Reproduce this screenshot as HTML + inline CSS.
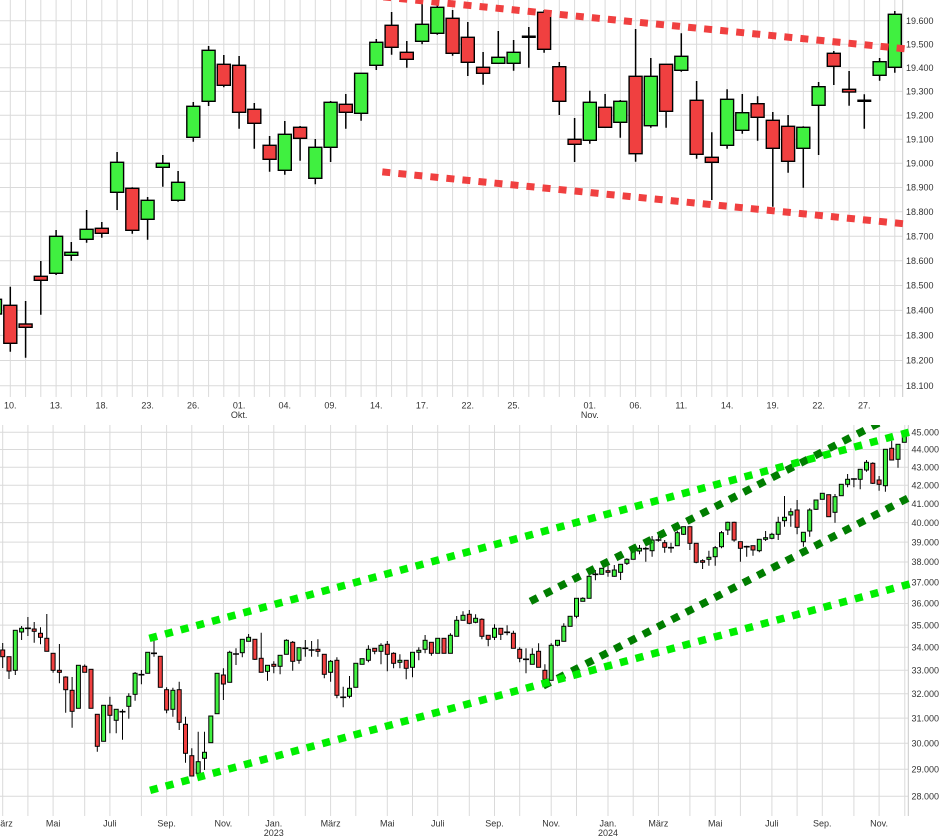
<!DOCTYPE html>
<html><head><meta charset="utf-8"><style>
html,body{margin:0;padding:0;background:#fff;}
svg{display:block;}
text{font-family:"Liberation Sans",Arial,sans-serif;font-size:9px;fill:#333;}
</style></head><body>
<svg width="942" height="837" viewBox="0 0 942 837" xmlns="http://www.w3.org/2000/svg">
<defs><clipPath id="cb"><rect x="0" y="425" width="942" height="392"/></clipPath></defs>
<!-- TOP CHART GRID -->
<g stroke="#dadada" stroke-width="1" fill="none">
<path d="M0 20.7H903M0 44.2H903M0 67.7H903M0 91.4H903M0 115.2H903M0 139.2H903M0 163.3H903M0 187.5H903M0 211.8H903M0 236.2H903M0 260.8H903M0 285.5H903M0 310.4H903M0 335.4H903M0 360.5H903M0 385.8H903"/>
<path d="M10.3 0V397M25.6 0V397M40.8 0V397M56.1 0V397M71.3 0V397M86.6 0V397M101.8 0V397M117.1 0V397M132.3 0V397M147.6 0V397M162.8 0V397M178.1 0V397M193.3 0V397M208.6 0V397M223.8 0V397M239.1 0V397M254.3 0V397M269.6 0V397M284.8 0V397M300.1 0V397M315.3 0V397M330.6 0V397M345.8 0V397M361.1 0V397M376.3 0V397M391.6 0V397M406.8 0V397M422.1 0V397M437.3 0V397M452.6 0V397M467.8 0V397M483.1 0V397M498.3 0V397M513.6 0V397M528.8 0V397M544.1 0V397M559.3 0V397M574.6 0V397M589.8 0V397M605.1 0V397M620.3 0V397M635.6 0V397M650.8 0V397M666.1 0V397M681.3 0V397M696.6 0V397M711.8 0V397M727.1 0V397M742.3 0V397M757.6 0V397M772.8 0V397M788.1 0V397M803.3 0V397M818.6 0V397M833.8 0V397M849.1 0V397M864.3 0V397M879.6 0V397M894.8 0V397"/>
<path d="M902.7 0V397" stroke="#c8c8c8"/>
</g>
<!-- TOP CANDLES -->
<path stroke="#000" stroke-width="1.5" fill="none" d="M-4.9 290V318M10.3 286.7V351.7M25.6 301V357.7M40.8 261V314.7M56.1 230V275M71.3 242V260.7M86.6 210V242.7M101.8 222V237.7M117.1 152V210M132.3 187.3V233.7M147.6 197V239.7M162.8 155V186.7M178.1 171V201.7M193.3 102V141.7M208.6 46V106M223.8 55V87.3M239.1 56V128.7M254.3 103V148.7M269.6 136V171.7M284.8 121V174.7M300.1 126V160.7M315.3 139V184.3M330.6 101V162M345.8 94V128.7M361.1 73.3V120.7M376.3 39V70M391.6 12V54.7M406.8 41V67.7M422.1 0V44.3M437.3 0V34.7M452.6 10V55.7M467.8 22V76M483.1 52V84.7M498.3 31V63.3M513.6 40V70.7M528.8 27V67.7M544.1 10V52.7M559.3 62V115M574.6 118V162M589.8 90.7V143.7M605.1 94V127.3M620.3 100V137.7M635.6 29V161.7M650.8 58V127.7M666.1 64.3V127.7M681.3 33.3V71.7M696.6 81V158.7M711.8 132.3V200M727.1 89.3V148.7M742.3 94V133.7M757.6 96.3V140.7M772.8 112V206.7M788.1 115V172.7M803.3 126.3V187.7M818.6 82V155M833.8 51V85M849.1 71V105.7M864.3 94.3V128.7M879.6 58V80.7M894.8 11V72.7"/>
<g fill="#40f040" stroke="#000" stroke-width="1.4">
<rect x="-11.5" y="299.3" width="13" height="14.7"/>
<rect x="49.6" y="236.3" width="13" height="37"/>
<rect x="64.8" y="252.3" width="13" height="3"/>
<rect x="80.1" y="229.3" width="13" height="10"/>
<rect x="110.6" y="162.3" width="13" height="30"/>
<rect x="141.1" y="200.3" width="13" height="19"/>
<rect x="156.3" y="163.3" width="13" height="4"/>
<rect x="171.6" y="182.3" width="13" height="18"/>
<rect x="186.8" y="106.3" width="13" height="31"/>
<rect x="202.1" y="50.3" width="13" height="51"/>
<rect x="278.3" y="134.3" width="13" height="36"/>
<rect x="308.8" y="147.3" width="13" height="31"/>
<rect x="324.1" y="102.3" width="13" height="45"/>
<rect x="354.6" y="73.3" width="13" height="40"/>
<rect x="369.8" y="42.3" width="13" height="23"/>
<rect x="415.6" y="24.3" width="13" height="17"/>
<rect x="430.8" y="7.3" width="13" height="26"/>
<rect x="491.8" y="57.3" width="13" height="6"/>
<rect x="507.1" y="52.3" width="13" height="11"/>
<rect x="583.3" y="102.3" width="13" height="38"/>
<rect x="613.8" y="101.3" width="13" height="21"/>
<rect x="644.3" y="76.3" width="13" height="49.4"/>
<rect x="674.8" y="56.3" width="13" height="14"/>
<rect x="720.6" y="99.3" width="13" height="46"/>
<rect x="735.8" y="112.7" width="13" height="17.6"/>
<rect x="796.8" y="127.3" width="13" height="21"/>
<rect x="812.1" y="86.7" width="13" height="18.6"/>
<rect x="873.1" y="61.7" width="13" height="13.6"/>
<rect x="888.3" y="14.3" width="13" height="53"/>
</g>
<g fill="#f04040" stroke="#000" stroke-width="1.4">
<rect x="3.8" y="305.3" width="13" height="38"/>
<rect x="19.1" y="324" width="13" height="3.3"/>
<rect x="34.3" y="276.3" width="13" height="4"/>
<rect x="95.3" y="228.3" width="13" height="5"/>
<rect x="125.8" y="188.3" width="13" height="42"/>
<rect x="217.3" y="64.3" width="13" height="21"/>
<rect x="232.6" y="65.3" width="13" height="47"/>
<rect x="247.8" y="109.3" width="13" height="14"/>
<rect x="263.1" y="145.3" width="13" height="14"/>
<rect x="293.6" y="127.3" width="13" height="11"/>
<rect x="339.3" y="104.3" width="13" height="8"/>
<rect x="385.1" y="25.3" width="13" height="22"/>
<rect x="400.3" y="52.3" width="13" height="7"/>
<rect x="446.1" y="18.3" width="13" height="35"/>
<rect x="461.3" y="37.3" width="13" height="25"/>
<rect x="476.6" y="67.3" width="13" height="6"/>
<rect x="537.6" y="12.3" width="13" height="37"/>
<rect x="552.8" y="66.7" width="13" height="34.6"/>
<rect x="568.1" y="139.3" width="13" height="5"/>
<rect x="598.6" y="107.3" width="13" height="20"/>
<rect x="629.1" y="76.3" width="13" height="77.4"/>
<rect x="659.6" y="64.3" width="13" height="47"/>
<rect x="690.1" y="100.3" width="13" height="54"/>
<rect x="705.3" y="157.3" width="13" height="5"/>
<rect x="751.1" y="103.7" width="13" height="13.6"/>
<rect x="766.3" y="120.3" width="13" height="28"/>
<rect x="781.6" y="126.3" width="13" height="35"/>
<rect x="827.3" y="53.3" width="13" height="13"/>
<rect x="842.6" y="89.3" width="13" height="2.7"/>
</g>
<path stroke="#000" stroke-width="2.5" d="M521.8 36.7H535.8M857.3 100.7H871.3"/>
<!-- TOP RED CHANNEL -->
<g stroke="#f04040" stroke-width="7" fill="none">
<line x1="383.3" y1="-3.1" x2="906" y2="48.9" stroke-dasharray="8 8.12"/>
<line x1="382.3" y1="171.9" x2="906" y2="224" stroke-dasharray="8 8.1"/>
</g>
<!-- TOP AXIS LABELS -->
<g>
<text x="906" y="23.9">19.600</text><text x="906" y="47.4">19.500</text><text x="906" y="70.9">19.400</text><text x="906" y="94.6">19.300</text><text x="906" y="118.4">19.200</text><text x="906" y="142.4">19.100</text><text x="906" y="166.5">19.000</text><text x="906" y="190.7">18.900</text><text x="906" y="215">18.800</text><text x="906" y="239.4">18.700</text><text x="906" y="264">18.600</text><text x="906" y="288.7">18.500</text><text x="906" y="313.6">18.400</text><text x="906" y="338.6">18.300</text><text x="906" y="363.7">18.200</text><text x="906" y="389">18.100</text>
</g>
<g text-anchor="middle">
<text x="10.3" y="408.5">10.</text><text x="56.1" y="408.5">13.</text><text x="101.8" y="408.5">18.</text><text x="147.6" y="408.5">23.</text><text x="193.3" y="408.5">26.</text><text x="239.1" y="408.5">01.</text><text x="239.1" y="417.8">Okt.</text><text x="284.8" y="408.5">04.</text><text x="330.6" y="408.5">09.</text><text x="376.3" y="408.5">14.</text><text x="422.1" y="408.5">17.</text><text x="467.8" y="408.5">22.</text><text x="513.6" y="408.5">25.</text><text x="589.8" y="408.5">01.</text><text x="589.8" y="417.8">Nov.</text><text x="635.6" y="408.5">06.</text><text x="681.3" y="408.5">11.</text><text x="727.1" y="408.5">14.</text><text x="772.8" y="408.5">19.</text><text x="818.6" y="408.5">22.</text><text x="864.3" y="408.5">27.</text>
</g>
<!-- BOTTOM CHART GRID -->
<g stroke="#dadada" stroke-width="1" fill="none">
<path d="M0 432.3H908M0 449.5H908M0 467.2H908M0 485.2H908M0 503.7H908M0 522.6H908M0 542.1H908M0 562H908M0 582.4H908M0 603.5H908M0 625.1H908M0 647.3H908M0 670.2H908M0 693.8H908M0 718.1H908M0 743.3H908M0 769.3H908M0 796.2H908"/>
<path d="M2.7 425V816M27.9 425V816M53.1 425V816M84.7 425V816M109.9 425V816M141.4 425V816M166.6 425V816M191.8 425V816M223.4 425V816M248.6 425V816M273.8 425V816M305.3 425V816M330.6 425V816M355.8 425V816M387.3 425V816M412.5 425V816M437.7 425V816M469.3 425V816M494.5 425V816M519.7 425V816M551.2 425V816M576.5 425V816M608 425V816M633.2 425V816M658.4 425V816M689.9 425V816M715.2 425V816M740.4 425V816M771.9 425V816M797.1 425V816M822.3 425V816M853.9 425V816M879.1 425V816M904.8 425V816"/>
<path d="M908.3 425V816" stroke="#c8c8c8"/>
</g>
<!-- BOTTOM CANDLES -->
<path stroke="#000" stroke-width="1" fill="none" d="M2.7 643V668M9 656.7V679M15.3 630.3V675M21.6 626V640M27.9 617V636M34.2 622V642.7M40.5 627.3V644.3M46.8 614V651.3M53.1 653.3V672.7M59.4 644V683.3M65.7 676.3V712.7M72.1 677V727.7M78.4 665.3V708.3M84.7 664.5V672.3M91 669.3V708.3M97.3 714.3V751.7M103.6 705.3V741.3M109.9 696.7V733.3M116.2 709.3V733.3M122.5 709.3V739.7M128.8 693.3V718.7M135.1 672V700.7M141.4 670V684.3M147.7 652.3V673.3M154 640V656.7M160.3 656.3V687.3M166.6 687.3V713.3M172.9 687.7V716.7M179.2 681.7V730M185.5 716.7V762.7M191.8 748.3V776M198.2 731.7V773.3M204.5 731.7V770M210.8 716V742.7M217.1 673.3V713.7M223.4 668.3V700M229.7 650.7V682.3M236 648.3V665M242.3 639.3V657.3M248.6 634V641.3M254.9 639.3V660M261.2 632.7V672.3M267.5 665.3V680.7M273.8 661.3V673.3M280.1 655.3V674.3M286.4 639.3V654.3M292.7 641V670.7M299 647.7V663.7M305.3 640V656.7M311.6 641V656.7M317.9 639.3V656.7M324.3 654.3V678.3M330.6 660V681.7M336.9 657.3V698.3M343.2 686.7V707.3M349.5 676V698.3M355.8 663.3V687.3M362.1 658.7V664.3M368.4 645.3V662.3M374.7 648.3V654.3M381 643.3V664.3M387.3 641V671.3M393.6 652.3V668.3M399.9 654.3V668.3M406.2 660.3V679.3M412.5 652.3V677.3M418.8 647.3V660.3M425.1 635V653.3M431.4 642.3V655.7M437.7 638.3V653.3M444 638.3V653.3M450.4 633.3V653.3M456.7 616V636.3M463 611.3V620.3M469.3 610V624.3M475.6 614.3V623.3M481.9 618.3V639.3M488.2 635.3V646.3M494.5 624.3V640M500.8 628.3V640M507.1 625.3V635.3M513.4 630.7V648.3M519.7 647.3V662.3M526 648.3V673.3M532.3 648.3V664.3M538.6 643.3V667.3M544.9 664.3V679.3M551.2 643.3V680.3M557.5 640.3V646.3M563.8 623.3V641.3M570.1 616.3V626.3M576.5 598.3V618.3M582.8 597.3V601.3M589.1 569V598.3M595.4 570V580.3M601.7 568.3V574.3M608 565.7V576.7M614.3 565V576.7M620.6 564.3V580M626.9 558.3V565M633.2 548.3V559.3M639.5 545V554.3M645.8 546.7V561.7M652.1 536V556.7M658.4 532.7V541.7M664.7 540V552.7M671 542.7V552.7M677.3 530.7V545.7M683.6 526.7V535M689.9 526.7V550M696.2 543.3V563.3M702.6 559.3V569M708.9 550.7V565.7M715.2 546V565.7M721.5 531V548.3M727.8 521.7V535M734.1 521.7V541.7M740.4 541.7V561.7M746.7 545.7V556.7M753 545.7V555.7M759.3 539.3V552.3M765.6 531V541M771.9 532.7V539.3M778.2 516.7V540M784.5 496V526.7M790.8 508.3V526.7M797.1 500V534.3M803.4 532.3V546.7M809.7 508.3V536.7M816 500V510M822.3 493.3V499.3M828.7 494.7V516.7M835 494V522.7M841.3 484.3V495.7M847.6 474V487.3M853.9 478.3V487.3M860.2 469.3V489.3M866.5 460V471.7M872.8 462.3V484M879.1 476V490.7M885.4 449.3V491.7M891.7 440.7V460M898 444.3V467.7M904.3 433.3V442.3"/>
<g fill="#40f040" stroke="#000" stroke-width="1">
<rect x="13.3" y="630.3" width="4" height="40"/><rect x="19.6" y="628.3" width="4" height="3.7"/><rect x="76.4" y="665.3" width="4" height="43"/><rect x="101.6" y="705.3" width="4" height="36"/><rect x="114.2" y="709.3" width="4" height="11"/><rect x="126.8" y="696.3" width="4" height="10"/><rect x="133.1" y="673.3" width="4" height="21"/><rect x="145.7" y="652.3" width="4" height="21"/><rect x="170.9" y="690.3" width="4" height="19"/><rect x="196.2" y="761.7" width="4" height="11.6"/><rect x="202.5" y="752.3" width="4" height="6"/><rect x="208.8" y="716" width="4" height="26.7"/><rect x="215.1" y="673.3" width="4" height="40.4"/><rect x="227.7" y="652.3" width="4" height="30"/><rect x="240.3" y="639.3" width="4" height="13.4"/><rect x="246.6" y="637.3" width="4" height="4"/><rect x="265.5" y="665.3" width="4" height="6"/><rect x="278.1" y="655.3" width="4" height="11"/><rect x="284.4" y="640.3" width="4" height="14"/><rect x="297" y="647.7" width="4" height="12.6"/><rect x="328.6" y="661.3" width="4" height="11"/><rect x="347.5" y="688.3" width="4" height="8"/><rect x="353.8" y="663.3" width="4" height="24"/><rect x="360.1" y="658.7" width="4" height="5.6"/><rect x="366.4" y="649.3" width="4" height="11"/><rect x="379" y="645.3" width="4" height="6"/><rect x="397.9" y="660.3" width="4" height="2"/><rect x="410.5" y="652.3" width="4" height="15"/><rect x="416.8" y="650.3" width="4" height="2"/><rect x="423.1" y="640.3" width="4" height="9"/><rect x="435.7" y="638.3" width="4" height="15"/><rect x="448.4" y="635.3" width="4" height="18"/><rect x="454.7" y="620.3" width="4" height="16"/><rect x="461" y="615.3" width="4" height="5"/><rect x="473.6" y="618.3" width="4" height="4"/><rect x="492.5" y="628.3" width="4" height="9"/><rect x="530.3" y="654.3" width="4" height="10"/><rect x="549.2" y="645.3" width="4" height="35"/><rect x="555.5" y="640.3" width="4" height="5"/><rect x="561.8" y="626.3" width="4" height="15"/><rect x="568.1" y="616.3" width="4" height="10"/><rect x="574.5" y="598.3" width="4" height="18"/><rect x="580.8" y="598.3" width="4" height="3"/><rect x="587.1" y="576.3" width="4" height="22"/><rect x="599.7" y="568.3" width="4" height="6"/><rect x="612.3" y="570" width="4" height="6.3"/><rect x="618.6" y="564.3" width="4" height="8"/><rect x="624.9" y="559.3" width="4" height="4"/><rect x="631.2" y="551.7" width="4" height="7.6"/><rect x="637.5" y="548.3" width="4" height="2.7"/><rect x="650.1" y="540" width="4" height="10.7"/><rect x="675.3" y="532.7" width="4" height="13"/><rect x="681.6" y="526.7" width="4" height="7.6"/><rect x="706.9" y="557.3" width="4" height="2"/><rect x="713.2" y="547.7" width="4" height="9"/><rect x="719.5" y="532.7" width="4" height="14"/><rect x="725.8" y="522.3" width="4" height="7.7"/><rect x="757.3" y="539.3" width="4" height="11.4"/><rect x="763.6" y="537.7" width="4" height="1.6"/><rect x="769.9" y="534.3" width="4" height="4"/><rect x="776.2" y="522.3" width="4" height="12"/><rect x="782.5" y="517.3" width="4" height="3.4"/><rect x="788.8" y="511.7" width="4" height="3.3"/><rect x="801.4" y="532.3" width="4" height="9.4"/><rect x="807.7" y="510" width="4" height="21"/><rect x="814" y="500" width="4" height="9.3"/><rect x="820.3" y="493.3" width="4" height="6"/><rect x="833" y="496.7" width="4" height="15.6"/><rect x="839.3" y="484.3" width="4" height="11.4"/><rect x="845.6" y="479.3" width="4" height="5"/><rect x="858.2" y="469.3" width="4" height="10"/><rect x="864.5" y="462.3" width="4" height="7.7"/><rect x="883.4" y="449.3" width="4" height="36.4"/><rect x="896" y="444.3" width="4" height="15"/><rect x="902.3" y="433.3" width="4" height="9"/>
</g>
<g fill="#f04040" stroke="#000" stroke-width="1">
<rect x="0.7" y="650" width="4" height="6.7"/><rect x="7" y="656.7" width="4" height="14.3"/><rect x="32.2" y="629" width="4" height="2.3"/><rect x="38.5" y="633.3" width="4" height="4"/><rect x="44.8" y="638.3" width="4" height="13"/><rect x="51.1" y="653.3" width="4" height="17"/><rect x="57.4" y="670.3" width="4" height="2"/><rect x="63.7" y="677" width="4" height="12.7"/><rect x="70.1" y="690.3" width="4" height="21"/><rect x="82.7" y="666.3" width="4" height="6"/><rect x="89" y="669.3" width="4" height="39"/><rect x="95.3" y="714.3" width="4" height="32"/><rect x="107.9" y="705.3" width="4" height="10"/><rect x="158.3" y="656.3" width="4" height="31"/><rect x="164.6" y="689.7" width="4" height="20.3"/><rect x="177.2" y="689.7" width="4" height="32.6"/><rect x="183.5" y="724.3" width="4" height="29"/><rect x="189.8" y="755.7" width="4" height="20.3"/><rect x="221.4" y="675" width="4" height="9"/><rect x="252.9" y="639.3" width="4" height="20"/><rect x="259.2" y="658.3" width="4" height="14"/><rect x="271.8" y="664.3" width="4" height="2"/><rect x="290.7" y="642.3" width="4" height="19"/><rect x="315.9" y="649.3" width="4" height="2"/><rect x="322.3" y="654.3" width="4" height="20"/><rect x="334.9" y="660.3" width="4" height="35"/><rect x="372.7" y="648.3" width="4" height="3"/><rect x="385.3" y="644.3" width="4" height="10"/><rect x="391.6" y="653.3" width="4" height="10"/><rect x="404.2" y="660.3" width="4" height="8"/><rect x="429.4" y="642.3" width="4" height="11"/><rect x="442" y="638.3" width="4" height="15"/><rect x="467.3" y="614.3" width="4" height="9"/><rect x="479.9" y="619.3" width="4" height="17"/><rect x="486.2" y="635.3" width="4" height="4"/><rect x="498.8" y="628.3" width="4" height="6"/><rect x="511.4" y="633.3" width="4" height="15"/><rect x="517.7" y="649.3" width="4" height="9"/><rect x="536.6" y="651.3" width="4" height="16"/><rect x="542.9" y="670.3" width="4" height="9"/><rect x="606" y="570.7" width="4" height="1.6"/><rect x="662.7" y="542.7" width="4" height="4.6"/><rect x="687.9" y="526.7" width="4" height="16.6"/><rect x="694.2" y="543.3" width="4" height="19"/><rect x="700.6" y="560.7" width="4" height="1.6"/><rect x="732.1" y="522.3" width="4" height="17.7"/><rect x="738.4" y="541.7" width="4" height="6.6"/><rect x="751" y="545.7" width="4" height="4.3"/><rect x="795.1" y="510" width="4" height="17.3"/><rect x="826.7" y="494.7" width="4" height="22"/><rect x="870.8" y="463.3" width="4" height="20"/><rect x="877.1" y="480" width="4" height="4.3"/><rect x="889.7" y="448.3" width="4" height="11.7"/>
</g>
<path stroke="#000" stroke-width="1.6" d="M24.9 628.3h6M119.5 711.7h6M138.4 674.7h6M151 653.3h6M233 654h6M302.3 648.3h6M308.6 650h6M340.2 697.3h6M504.1 632.3h6M523 659.3h6M592.4 574.3h6M642.8 548.7h6M655.4 540h6M668 547.7h6M743.7 546.7h6M850.9 479h6"/>
<!-- BOTTOM GREEN CHANNELS -->
<g clip-path="url(#cb)" fill="none" stroke-width="7.5">
<line x1="530.4" y1="601.4" x2="880" y2="422.4" stroke="#007d00" stroke-dasharray="8 7.97"/>
<line x1="543.1" y1="685.9" x2="910" y2="497.1" stroke="#007d00" stroke-dasharray="8 8.08"/>
<line x1="149.4" y1="638.4" x2="909" y2="432.2" stroke="#00ee00" stroke-dasharray="8 8.23"/>
<line x1="150.1" y1="790.4" x2="910" y2="583.9" stroke="#00ee00" stroke-dasharray="8 8.23"/>
</g>
<!-- BOTTOM AXIS LABELS -->
<g>
<text x="911.5" y="435.5">45.000</text><text x="911.5" y="452.7">44.000</text><text x="911.5" y="470.4">43.000</text><text x="911.5" y="488.4">42.000</text><text x="911.5" y="506.9">41.000</text><text x="911.5" y="525.8">40.000</text><text x="911.5" y="545.3">39.000</text><text x="911.5" y="565.2">38.000</text><text x="911.5" y="585.6">37.000</text><text x="911.5" y="606.7">36.000</text><text x="911.5" y="628.3">35.000</text><text x="911.5" y="650.5">34.000</text><text x="911.5" y="673.4">33.000</text><text x="911.5" y="697">32.000</text><text x="911.5" y="721.3">31.000</text><text x="911.5" y="746.5">30.000</text><text x="911.5" y="772.5">29.000</text><text x="911.5" y="799.4">28.000</text>
</g>
<g text-anchor="middle">
<text x="2.7" y="826.5">März</text><text x="53.1" y="826.5">Mai</text><text x="109.9" y="826.5">Juli</text><text x="166.6" y="826.5">Sep.</text><text x="223.4" y="826.5">Nov.</text><text x="273.8" y="826.5">Jan.</text><text x="273.8" y="835.8">2023</text><text x="330.6" y="826.5">März</text><text x="387.3" y="826.5">Mai</text><text x="437.7" y="826.5">Juli</text><text x="494.5" y="826.5">Sep.</text><text x="551.2" y="826.5">Nov.</text><text x="608" y="826.5">Jan.</text><text x="608" y="835.8">2024</text><text x="658.4" y="826.5">März</text><text x="715.2" y="826.5">Mai</text><text x="771.9" y="826.5">Juli</text><text x="822.3" y="826.5">Sep.</text><text x="879.1" y="826.5">Nov.</text>
</g>
</svg>
</body></html>
